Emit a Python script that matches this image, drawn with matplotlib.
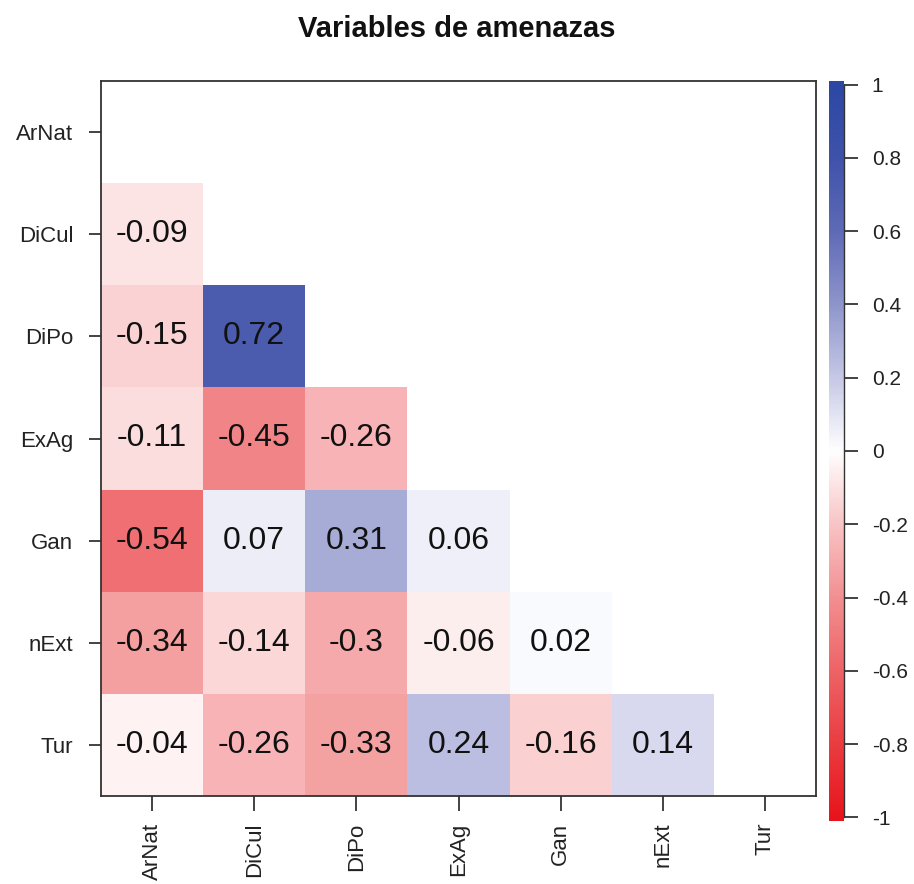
import numpy as np
import matplotlib
matplotlib.use("Agg")
import matplotlib.pyplot as plt
from matplotlib.colors import LinearSegmentedColormap, Normalize

plt.rcParams.update({
    "font.family": ["Liberation Sans", "DejaVu Sans"],
    "axes.edgecolor": "#333333",
    "xtick.color": "#222222",
    "ytick.color": "#222222",
})

# variables and lower-triangle correlations (row i, columns 0..i-1)
variables = ["ArNat", "DiCul", "DiPo", "ExAg", "Gan", "nExt", "Tur"]
corr_rows = [
    [],
    [-0.09],
    [-0.15, 0.72],
    [-0.11, -0.45, -0.26],
    [-0.54, 0.07, 0.31, 0.06],
    [-0.34, -0.14, -0.30, -0.06, 0.02],
    [-0.04, -0.26, -0.33, 0.24, -0.16, 0.14],
]
cbar_ticks = [-1, -0.8, -0.6, -0.4, -0.2, 0, 0.2, 0.4, 0.6, 0.8, 1]

n = len(variables)
mat = np.full((n, n), np.nan)
for i, row in enumerate(corr_rows):
    for j, v in enumerate(row):
        mat[i, j] = v
masked = np.ma.masked_invalid(mat)

# red - white - blue ramp
cmap = LinearSegmentedColormap.from_list("rwb", [
    (0.00, "#E8141C"),
    (0.10, "#EA3C40"),
    (0.20, "#EE6366"),
    (0.30, "#F28F91"),
    (0.40, "#F9C4C5"),
    (0.50, "#FFFFFF"),
    (0.60, "#C6C8E6"),
    (0.70, "#8E95CB"),
    (0.80, "#5E6AB6"),
    (0.90, "#3F52AA"),
    (1.00, "#2C48A4"),
])
norm = Normalize(-1, 1)


def fmt(v):
    s = f"{round(v, 2):g}"
    return "0" if s in ("-0", "0") else s


W, H = 914, 884
fig = plt.figure(figsize=(W / 100, H / 100), dpi=100)
ax = fig.add_axes([101 / W, 1 - 796 / H, 715 / W, 715 / H])

ax.pcolormesh(np.arange(n + 1), np.arange(n + 1), masked, cmap=cmap, norm=norm)
ax.set_xlim(0, n)
ax.set_ylim(n, 0)

for i in range(n):
    for j in range(n):
        if not np.isnan(mat[i, j]):
            ax.text(j + 0.5, i + 0.5, fmt(mat[i, j]), ha="center", va="center",
                    fontsize=23, color="#111111")

ax.set_xticks(np.arange(n) + 0.5)
ax.set_xticklabels(variables, rotation=90, fontsize=16)
ax.set_yticks(np.arange(n) + 0.5)
ax.set_yticklabels(variables, fontsize=16)
ax.tick_params(axis="y", length=9, width=1.2, pad=11)
ax.tick_params(axis="x", length=11, width=1.2, pad=8)
for sp in ax.spines.values():
    sp.set_linewidth(1.3)

# colour bar
cax = fig.add_axes([829 / W, 1 - 821 / H, 15 / W, 740 / H])
grad = np.linspace(-1, 1, 400).reshape(-1, 1)
cax.imshow(grad, extent=[0, 1, -1.01, 1.01], origin="lower", aspect="auto",
           cmap=cmap, norm=norm)
cax.set_xlim(0, 1)
cax.set_ylim(-1.01, 1.01)
cax.set_xticks([])
cax.yaxis.tick_right()
cax.set_yticks(cbar_ticks)
cax.set_yticklabels([fmt(t) for t in cbar_ticks], fontsize=15)
cax.tick_params(axis="y", length=10, width=1.2, pad=10)
for side in ("left", "top", "bottom"):
    cax.spines[side].set_visible(False)
cax.spines["right"].set_bounds(-1, 1)
cax.spines["right"].set_linewidth(1.0)

fig.text(0.5, 1 - 29 / H, "Variables de amenazas", ha="center", va="center",
         fontsize=21, fontweight="bold", color="#111111")

fig.savefig("out.png", dpi=100, facecolor="white")
